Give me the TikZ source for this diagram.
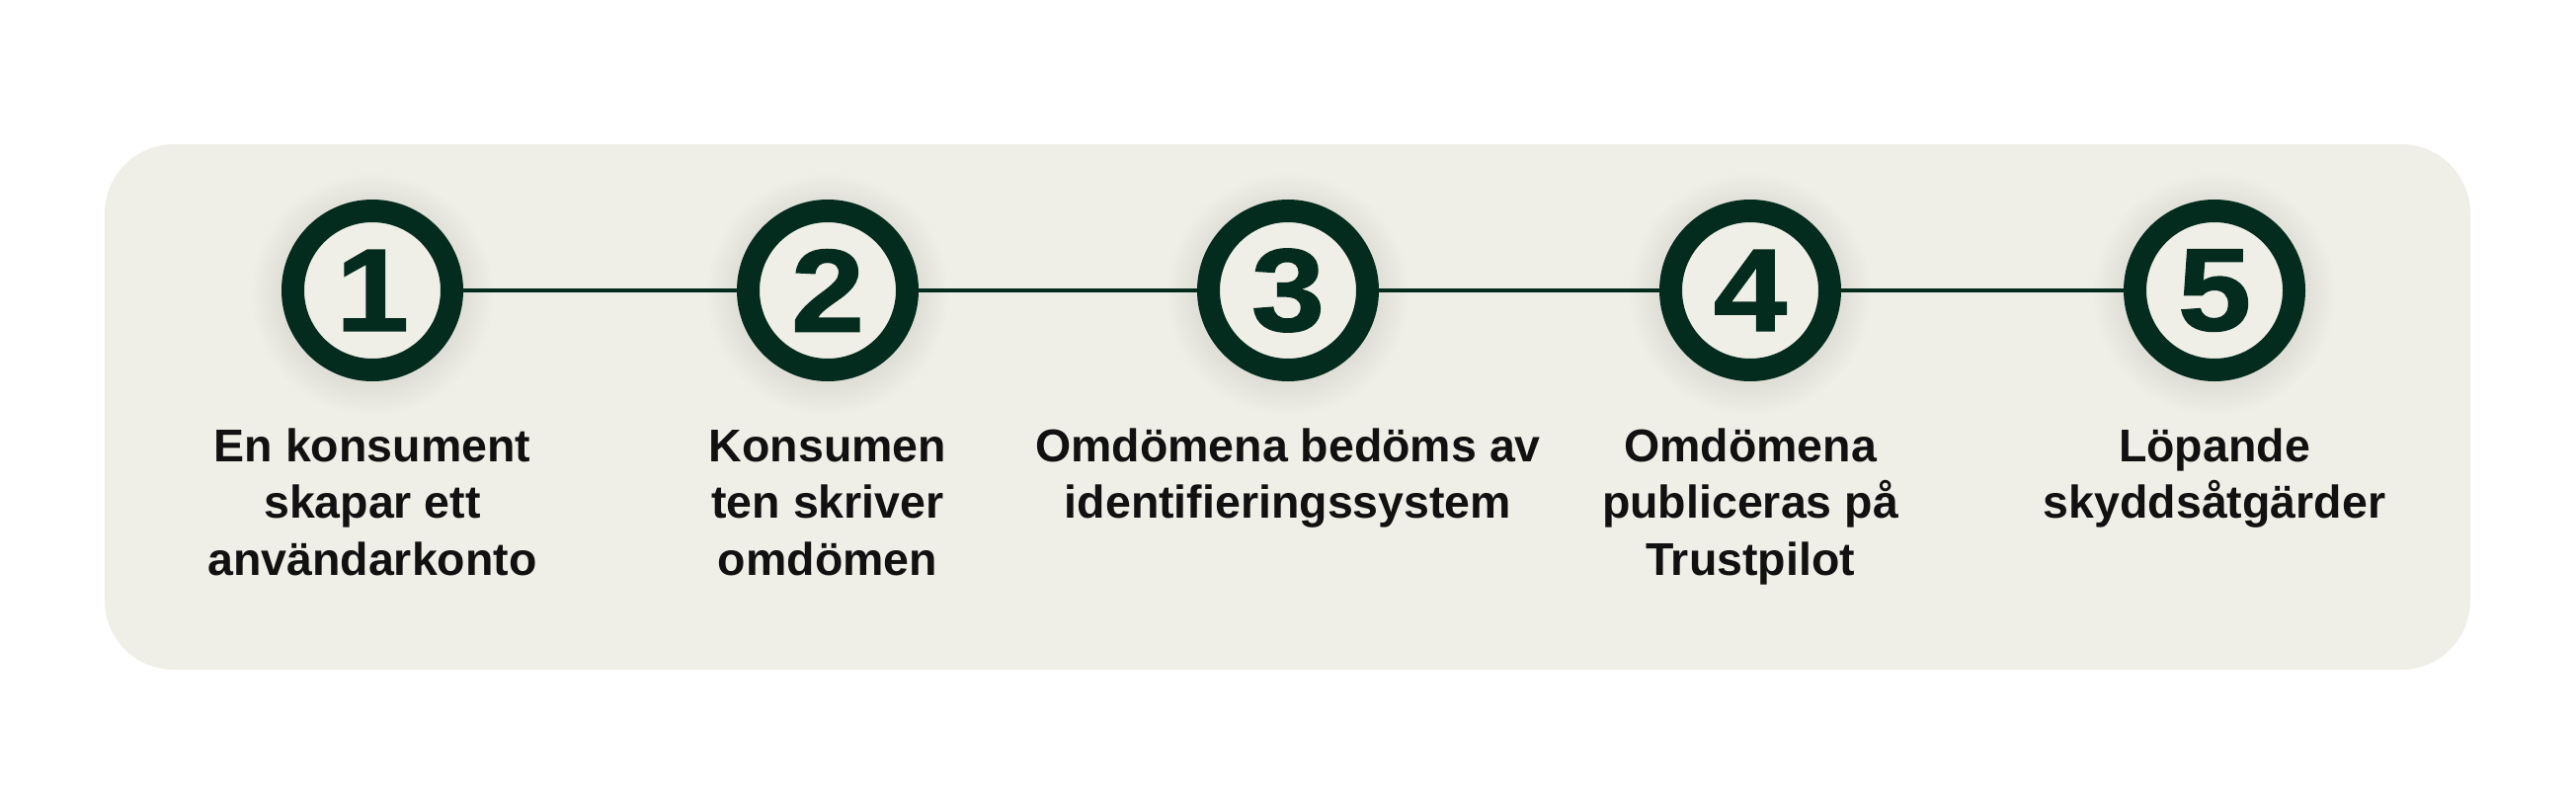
\documentclass[tikz,border=0pt]{standalone}
\usepackage{fontspec}
\setmainfont{Liberation Sans}
\newfontfamily\digitfont[FakeBold=1.2]{Liberation Sans}
\definecolor{bg}{HTML}{F0EFE7}
\definecolor{ring}{HTML}{032B1E}
\definecolor{txt}{HTML}{111111}
\begin{document}
\begin{tikzpicture}[x=1pt,y=-1pt,
  stepcircle/.style={circle, draw=ring, line width=23pt, fill=bg, minimum size=161pt, inner sep=0pt, text=ring,
    font=\digitfont\fontsize{119}{119}\selectfont\bfseries},
  steplabel/.style={anchor=base, align=center, text=txt, inner sep=0pt,
    font=\fontsize{46.5}{57.5}\selectfont\bfseries},
  link/.style={draw=ring, line width=4pt},
  halo/.style={fill=black, opacity=0.004}]
\useasboundingbox (0,0) rectangle (2608,822);
\fill[white] (0,0) rectangle (2608,822);
\fill[bg, rounded corners=70pt] (106,146) rectangle (2501,678);
% soft halos
\foreach \cx in {377,838,1304,1772,2242}{
  \foreach \r in {93,95,...,123}{
    \fill[halo] (\cx,298) circle (\r pt);
  }
}
% circles
\node[stepcircle] (c1) at (377,294) {\scalebox{1.12}[1]{1}};
\node[stepcircle] (c2) at (838,294) {\scalebox{1.12}[1]{2}};
\node[stepcircle] (c3) at (1304,294) {\scalebox{1.12}[1]{3}};
\node[stepcircle] (c4) at (1772,294) {\scalebox{1.12}[1]{4}};
\node[stepcircle] (c5) at (2242,294) {\scalebox{1.12}[1]{5}};
% connectors
\draw[link] (c1) -- (c2);
\draw[link] (c2) -- (c3);
\draw[link] (c3) -- (c4);
\draw[link] (c4) -- (c5);
% labels (base anchor = baseline of the last line)
\node[steplabel] (l1) at (377,582) {En konsument\\skapar ett\\användarkonto};
\node[steplabel] (l2) at (838,582) {Konsumen\\ten skriver\\omdömen};
\node[steplabel] (l3) at (1304,524.5) {Omdömena bedöms av\\identifieringssystem};
\node[steplabel] (l4) at (1772,582) {Omdömena\\publiceras på\\Trustpilot};
\node[steplabel] (l5) at (2242,524.5) {Löpande\\skyddsåtgärder};
\end{tikzpicture}
\end{document}
